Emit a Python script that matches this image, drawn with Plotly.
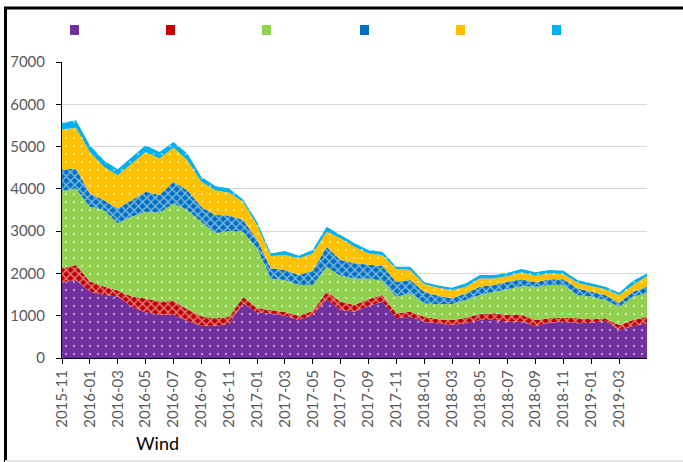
import plotly.graph_objects as go

months = ["2015-11", "2015-12", "2016-01", "2016-02", "2016-03", "2016-04", "2016-05", "2016-06",
          "2016-07", "2016-08", "2016-09", "2016-10", "2016-11", "2016-12", "2017-01", "2017-02",
          "2017-03", "2017-04", "2017-05", "2017-06", "2017-07", "2017-08", "2017-09", "2017-10",
          "2017-11", "2017-12", "2018-01", "2018-02", "2018-03", "2018-04", "2018-05", "2018-06",
          "2018-07", "2018-08", "2018-09", "2018-10", "2018-11", "2018-12", "2019-01", "2019-02",
          "2019-03", "2019-04", "2019-05"]
tick_labels = ["2015-11", "2016-01", "2016-03", "2016-05", "2016-07", "2016-09", "2016-11",
               "2017-01", "2017-03", "2017-05", "2017-07", "2017-09", "2017-11", "2018-01",
               "2018-03", "2018-05", "2018-07", "2018-09", "2018-11", "2019-01", "2019-03"]

s_purple = [1785, 1847, 1572, 1494, 1454, 1219, 1080, 1020, 1020, 880, 760, 760, 810, 1292, 1080,
            1050, 1000, 900, 1010, 1390, 1135, 1095, 1229, 1332, 938, 977, 859, 815, 780, 820, 898,
            898, 859, 859, 757, 835, 859, 820, 835, 882, 662, 757, 820]
s_red = [338, 354, 236, 196, 142, 235, 330, 315, 330, 270, 225, 180, 160, 150, 100, 90, 90, 100,
         100, 178, 197, 158, 158, 157, 118, 118, 118, 99, 118, 134, 142, 158, 157, 157, 141, 103,
         95, 118, 79, 60, 118, 141, 157]
s_green = [1831, 1808, 1769, 1808, 1588, 1887, 2049, 2100, 2306, 2348, 2238, 2008, 2033, 1545, 1413,
           743, 754, 726, 616, 591, 607, 630, 496, 339, 394, 434, 315, 356, 379, 417, 449, 512, 607,
           686, 788, 788, 772, 551, 536, 429, 433, 552, 568]
s_blue = [503, 472, 315, 236, 354, 393, 472, 417, 511, 472, 354, 433, 367, 275, 212, 237, 236, 236,
          339, 473, 378, 355, 316, 347, 355, 315, 276, 200, 134, 158, 197, 158, 182, 158, 103, 134,
          134, 158, 118, 118, 95, 118, 141]
s_yellow = [944, 967, 982, 786, 786, 865, 943, 865, 809, 708, 590, 589, 540, 434, 339, 291, 355, 394,
            409, 355, 512, 394, 275, 260, 299, 236, 181, 193, 189, 157, 197, 157, 134, 165, 157, 142,
            126, 134, 134, 134, 181, 158, 253]
s_lightblue = [157, 173, 157, 158, 141, 141, 157, 157, 134, 157, 118, 95, 99, 55, 79, 63, 95, 60, 79,
               118, 79, 79, 79, 79, 55, 79, 50, 50, 60, 79, 79, 79, 78, 79, 79, 78, 79, 63, 63, 63,
               56, 102, 60]

series = [
    (s_purple, "#7030A0", "."),
    (s_red, "#C00000", "x"),
    (s_green, "#92D050", "."),
    (s_blue, "#0070C0", "x"),
    (s_yellow, "#FFC000", "."),
    (s_lightblue, "#00B0F0", "."),
]

fig = go.Figure()
for vals, col, shp in series:
    if shp == ".":
        pat = dict(shape=".", fgcolor="white", bgcolor=col, size=8, solidity=0.07)
    else:
        pat = dict(shape="x", fgcolor="white", bgcolor=col, size=6, solidity=0.42)
    fig.add_trace(go.Scatter(
        x=months, y=vals, mode="lines", stackgroup="one",
        line=dict(width=0, color=col), fillcolor=col, fillpattern=pat,
        showlegend=False, hoverinfo="skip"))

W, H = 683, 462
L, R, T, B = 62, 647, 62, 358
pw, ph = R - L, B - T


def px(x):
    return (x - L) / pw


def py(y):
    return (B - y) / ph


shapes = []
legend_x = [70, 166, 262, 360, 456, 552]
for lx, (_, col, _) in zip(legend_x, series):
    shapes.append(dict(type="rect", xref="paper", yref="paper",
                       x0=px(lx), x1=px(lx + 9), y0=py(35), y1=py(25),
                       fillcolor=col, line=dict(width=0)))
# outer frame
shapes.append(dict(type="rect", xref="paper", yref="paper",
                   x0=px(5.5), x1=px(720), y0=py(520), y1=py(8),
                   line=dict(color="black", width=3), fillcolor="rgba(0,0,0,0)"))
shapes.append(dict(type="line", xref="paper", yref="paper",
                   x0=px(5), x1=px(683), y0=py(461), y1=py(461),
                   line=dict(color="#e6e6e6", width=2)))

font_fam = "Lato, 'Open Sans', sans-serif"
fig.update_layout(
    width=W, height=H,
    margin=dict(l=L, r=W - R, t=T, b=H - B),
    paper_bgcolor="white", plot_bgcolor="white",
    showlegend=False,
    shapes=shapes,
    annotations=[dict(text="Wind", xref="paper", yref="paper", x=px(157), y=py(443),
                      xanchor="center", yanchor="middle", showarrow=False,
                      font=dict(family=font_fam, size=18, color="black"))],
)
fig.update_xaxes(
    type="category", range=[0, len(months) - 1], automargin=False,
    tickmode="array", tickvals=tick_labels, ticktext=tick_labels,
    tickangle=-90, tickfont=dict(family=font_fam, size=15, color="#595959"),
    ticks="outside", ticklen=5, tickcolor="black",
    showline=True, linecolor="black", linewidth=1,
    showgrid=False, zeroline=False,
)
fig.update_yaxes(
    range=[0, 7000], automargin=False,
    tickmode="array", tickvals=[0, 1000, 2000, 3000, 4000, 5000, 6000, 7000],
    tickfont=dict(family=font_fam, size=15, color="#595959"),
    ticks="outside", ticklen=5, tickcolor="black",
    showline=True, linecolor="black", linewidth=1,
    showgrid=True, gridcolor="#d9d9d9", gridwidth=1, zeroline=False,
    ticklabelstandoff=8,
)

fig.write_html("out.html", config={"displayModeBar": False, "staticPlot": True},
               post_script="document.body.style.margin='0';document.body.style.overflow='hidden';")
